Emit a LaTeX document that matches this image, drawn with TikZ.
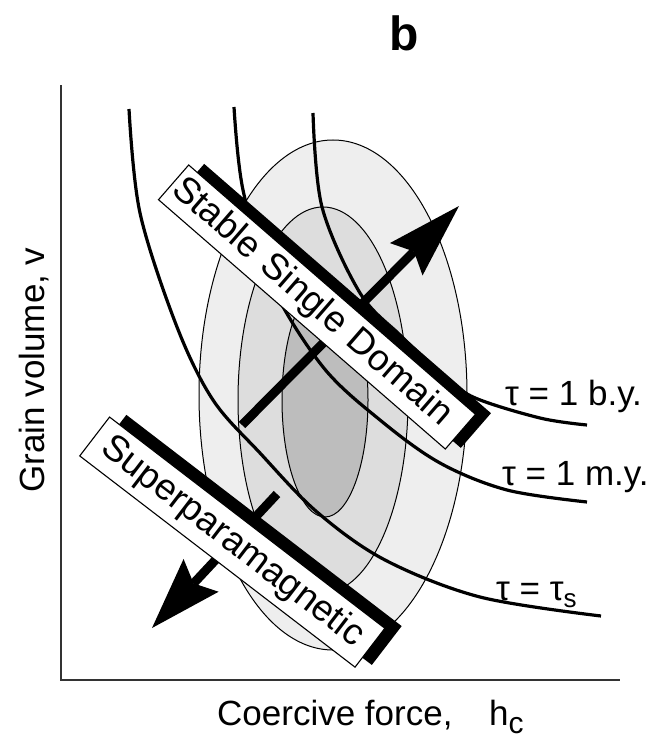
\documentclass[tikz,border=0pt]{standalone}
\usepackage{fontspec}
\setmainfont{Liberation Sans}
\usetikzlibrary{calc}
\definecolor{outerfill}{gray}{0.935}
\definecolor{midfill}{gray}{0.865}
\definecolor{innerfill}{gray}{0.74}
\begin{document}
\begin{tikzpicture}[x=1bp,y=-1bp,
  ell/.style={draw=black, line width=1bp},
  tcurve/.style={line width=3.2bp},
  shaft/.style={line width=9bp},
  lbl/.style={inner sep=0pt, font=\fontsize{35bp}{40bp}\selectfont},
  taulbl/.style={inner sep=0pt, font=\fontsize{35bp}{40bp}\selectfont},
  domainbox/.style={draw=black, fill=white, line width=1.1bp, inner ysep=0pt, font=\fontsize{36.8bp}{40bp}\selectfont},
  shadowbox/.style={fill=black, inner sep=0pt},
]
\useasboundingbox (0,0) rectangle (659,741);
\fill[white] (0,0) rectangle (659,741);

% nested ellipses
\draw[ell, fill=outerfill] (333,395) ellipse [x radius=134bp, y radius=255bp];
\draw[ell, fill=midfill] (323,400) ellipse [x radius=85bp, y radius=193bp];
\draw[ell, fill=innerfill] (325,400) ellipse [x radius=43bp, y radius=117bp];

% relaxation-time curves
\draw[tcurve] plot[smooth, tension=0.55] coordinates {(129,109) (140,213) (177,327) (213,400) (260,453) (317,512) (385,560) (480,597) (601,616)};
\draw[tcurve] plot[smooth, tension=0.55] coordinates {(234,107) (243,190) (272,285) (323,367) (380,420) (440,463) (507,490) (587,502)};
\draw[tcurve] plot[smooth, tension=0.55] coordinates {(313,113) (322,207) (360,293) (400,335) (440,372) (473,397) (540,418) (587,425)};

% up arrow
\coordinate (ustart) at (242,425);
\coordinate (utip) at (459,206);
\coordinate (ubase) at ($(utip)!75bp!(ustart)$);
\coordinate (ul) at ($(ubase)!23bp!90:(utip)$);
\coordinate (ur) at ($(ubase)!23bp!-90:(utip)$);
\coordinate (uin) at ($(utip)!64bp!(ustart)$);
\draw[shaft] (ustart) -- (uin);
\fill (utip) -- (ul) -- (uin) -- (ur) -- cycle;

% down arrow
\coordinate (dstart) at (277,494);
\coordinate (dtip) at (152,628);
\coordinate (dbase) at ($(dtip)!72bp!(dstart)$);
\coordinate (dl) at ($(dbase)!24bp!90:(dtip)$);
\coordinate (dr) at ($(dbase)!24bp!-90:(dtip)$);
\coordinate (din) at ($(dtip)!61bp!(dstart)$);
\draw[shaft] (dstart) -- (din);
\fill (dtip) -- (dl) -- (din) -- (dr) -- cycle;

% Stable Single Domain box
\node[shadowbox, rotate=-41, minimum width=380bp, minimum height=46bp] (ssdshadow) at (332.5,305.9) {};
\node[domainbox, rotate=-41, minimum width=380bp, minimum height=46bp, text width=372bp, inner xsep=4bp, align=left] (ssd) at (317,307) {Stable Single Domain};

% Superparamagnetic box
\node[shadowbox, rotate=-37.5, minimum width=347bp, minimum height=49bp] (spmshadow) at (249.1,539.9) {};
\node[domainbox, rotate=-37.5, minimum width=347bp, minimum height=49bp, inner xsep=0pt] (spm) at (232.3,542.1) {Superparamagnetic};

% curve labels
\node[taulbl, anchor=base west] (tby) at (505,405) {τ = 1 b.y.};
\node[taulbl, anchor=base west] (tmy) at (502,485) {τ = 1 m.y.};
\node[taulbl, anchor=base west] (tts) at (496,600) {τ = τ\raisebox{-7bp}{\fontsize{26bp}{26bp}\selectfont s}};

% axes
\coordinate (yaxtop) at (61,85);
\coordinate (origin) at (61,680);
\coordinate (xaxend) at (620,680);
\draw[line width=2bp, black!80] (yaxtop) -- (origin) -- (xaxend);

% axis labels and title
\node[lbl, rotate=90, anchor=base] (ylabel) at (44,370) {Grain volume, v};
\node[lbl, anchor=base west] (xlabel) at (217,725) {Coercive force,};
\node[lbl, anchor=base west] (hc) at (489,725) {h\raisebox{-8bp}{\fontsize{30bp}{30bp}\selectfont c}};
\node[inner sep=0pt, font=\fontsize{48bp}{50bp}\selectfont\bfseries] (title) at (404,33) {b};
\end{tikzpicture}
\end{document}
